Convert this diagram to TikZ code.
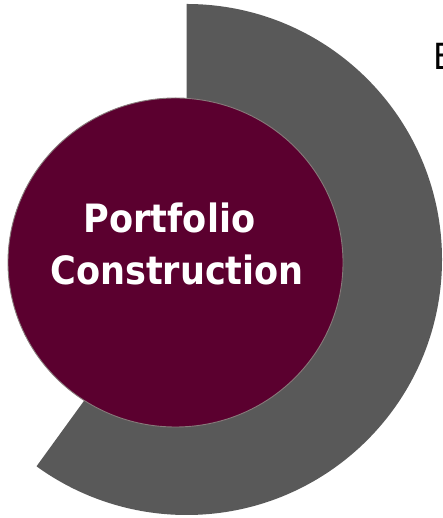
\documentclass[tikz,border=0pt]{standalone}
\usepackage{fontspec}
\setmainfont{DejaVu Sans}
\newfontfamily\labelfont{DejaVu Sans Condensed}
\usetikzlibrary{shapes.geometric}
\definecolor{sectorgray}{RGB}{89,89,89}
\definecolor{coremaroon}{RGB}{91,0,47}
\definecolor{coreedge}{RGB}{135,122,122}
\tikzset{
  sector/.style={fill=sectorgray},
  corecircle/.style={ellipse, fill=coremaroon, draw=coreedge, line width=0.9pt,
    inner sep=0pt, minimum width=335pt, minimum height=329pt},
  titletext/.style={inner sep=0pt, text=white, font=\labelfont\bfseries\fontsize{39}{47}\selectfont},
  headtext/.style={inner sep=0pt, text=black, font=\labelfont\fontsize{36}{42}\selectfont}
}
\begin{document}
\begin{tikzpicture}[x=1pt,y=1pt]
  \useasboundingbox (0,0) rectangle (443,518);
  % outer grey sector, from the top round to the lower left
  \coordinate (hub) at (186.5,258.5);
  \fill[sector] (hub) -- ++(90:255.5pt)
    arc[start angle=90, end angle=-125.95, radius=255.5pt] -- cycle;
  % maroon disc on top
  \node[corecircle] (core) at (175.5,255.5) {};
  \node[titletext, anchor=base] (title1) at (169.5,285) {Portfolio};
  \node[titletext, anchor=base] (title2) at (177,233) {Construction};
  % heading running off the right edge
  \node[headtext, anchor=base west] (head) at (433.5,448) {E};
\end{tikzpicture}
\end{document}
